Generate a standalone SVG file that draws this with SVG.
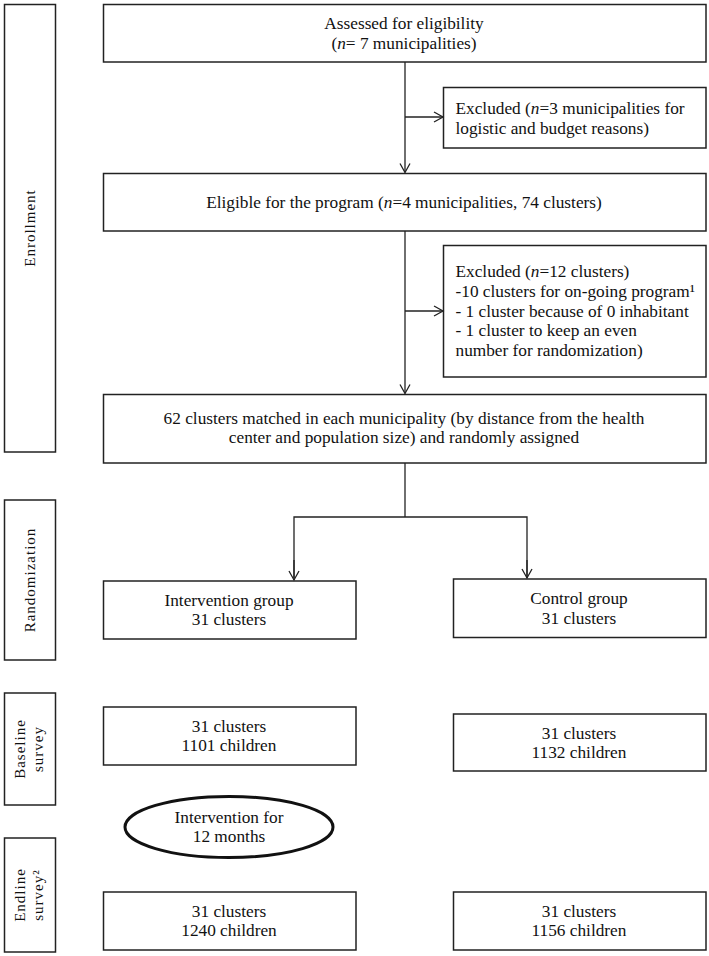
<svg xmlns="http://www.w3.org/2000/svg" width="709" height="956" viewBox="0 0 709 956">
<style>
.box{fill:#fff;stroke:#222;stroke-width:1.5}
.lab{fill:#fff;stroke:#222;stroke-width:1.5}
text{font-family:"Liberation Serif","Times New Roman",serif;font-size:17.3px;fill:#111}
.c{text-anchor:middle}
.side{font-size:15px;letter-spacing:1px}
.con{fill:none;stroke:#222;stroke-width:1.3}
</style>
<defs>
<marker id="ah" markerWidth="12" markerHeight="12" refX="10" refY="6" orient="auto" markerUnits="userSpaceOnUse">
<path d="M1,1 L10,6 L1,11" fill="none" stroke="#222" stroke-width="1.3"/>
</marker>
</defs>
<rect width="709" height="956" fill="#fff"/>

<g id="lab-enroll"><rect class="lab" x="4.5" y="4.5" width="51" height="447.5"/><text class="c side" transform="translate(35,228) rotate(-90)">Enrollment</text></g>
<g id="lab-random"><rect class="lab" x="4.5" y="500" width="51" height="160"/><text class="c side" transform="translate(35,580) rotate(-90)">Randomization</text></g>
<g id="lab-base"><rect class="lab" x="4.5" y="693" width="51" height="112"/><text class="c side" transform="translate(25,749) rotate(-90)">Baseline</text><text class="c side" transform="translate(43,749) rotate(-90)">survey</text></g>
<g id="lab-end"><rect class="lab" x="4.5" y="838" width="51" height="114"/><text class="c side" transform="translate(25,895) rotate(-90)">Endline</text><text class="c side" transform="translate(43,895) rotate(-90)">survey²</text></g>

<g id="assessed"><rect class="box" x="103.5" y="4.5" width="602.5" height="57.5"/><text class="c" x="404" y="29">Assessed  for eligibility</text><text class="c" x="404" y="49">(<tspan font-style="italic">n</tspan>= 7 municipalities)</text></g>
<g id="excl1"><rect class="box" x="443.5" y="87.5" width="262.5" height="60.5"/><text x="455.5" y="114">Excluded  (<tspan font-style="italic">n</tspan>=3 municipalities for</text><text x="455.5" y="134">logistic and budget  reasons)</text></g>
<g id="eligible"><rect class="box" x="103.5" y="173.5" width="602.5" height="57.5"/><text class="c" x="404" y="208">Eligible for the program  (<tspan font-style="italic">n</tspan>=4 municipalities, 74 clusters)</text></g>
<g id="excl2"><rect class="box" x="443.5" y="245.5" width="262.5" height="131.5"/>
<text x="455.5" y="277">Excluded  (<tspan font-style="italic">n</tspan>=12 clusters)</text>
<text x="455.5" y="297">-10 clusters  for on-going program¹</text>
<text x="455.5" y="316.5">- 1 cluster  because  of 0 inhabitant</text>
<text x="455.5" y="336">- 1 cluster to keep  an even</text>
<text x="455.5" y="355.5">number  for randomization)</text></g>
<g id="matched"><rect class="box" x="103.5" y="394.5" width="602.5" height="68.5"/><text class="c" x="404" y="424">62 clusters  matched in each municipality (by distance from the health</text><text class="c" x="404" y="443">center and population size) and randomly assigned</text></g>
<g id="intervention"><rect class="box" x="103.5" y="581" width="252.5" height="58"/><text class="c" x="229" y="606">Intervention group</text><text class="c" x="229" y="625">31 clusters</text></g>
<g id="control"><rect class="box" x="453.5" y="579" width="252.5" height="58.5"/><text class="c" x="579" y="604">Control group</text><text class="c" x="579" y="624">31 clusters</text></g>
<g id="base-int"><rect class="box" x="103.5" y="707" width="252.5" height="58"/><text class="c" x="229" y="732">31 clusters</text><text class="c" x="229" y="751">1101 children</text></g>
<g id="base-ctl"><rect class="box" x="453.5" y="714" width="252.5" height="57"/><text class="c" x="579" y="739">31 clusters</text><text class="c" x="579" y="758">1132 children</text></g>
<g id="interv12"><ellipse cx="229" cy="827" rx="104" ry="30.5" fill="#fff" stroke="#111" stroke-width="3"/><text class="c" x="229" y="823">Intervention for</text><text class="c" x="229" y="842">12 months</text></g>
<g id="end-int"><rect class="box" x="103.5" y="892" width="252.5" height="58"/><text class="c" x="229" y="917">31 clusters</text><text class="c" x="229" y="936">1240 children</text></g>
<g id="end-ctl"><rect class="box" x="453.5" y="892" width="252.5" height="58"/><text class="c" x="579" y="917">31 clusters</text><text class="c" x="579" y="936">1156 children</text></g>

<g id="connectors">
<line class="con" x1="405" y1="62" x2="405" y2="172.5" marker-end="url(#ah)"/>
<line class="con" x1="405" y1="117" x2="443" y2="117" marker-end="url(#ah)"/>
<line class="con" x1="405" y1="231" x2="405" y2="393.5" marker-end="url(#ah)"/>
<line class="con" x1="405" y1="311" x2="443" y2="311" marker-end="url(#ah)"/>
<line class="con" x1="405" y1="463" x2="405" y2="517"/>
<polyline class="con" points="294,578 294,517 527,517 527,578"/>
<line class="con" x1="294" y1="560" x2="294" y2="580" marker-end="url(#ah)"/>
<line class="con" x1="527" y1="560" x2="527" y2="578" marker-end="url(#ah)"/>
</g>
</svg>
